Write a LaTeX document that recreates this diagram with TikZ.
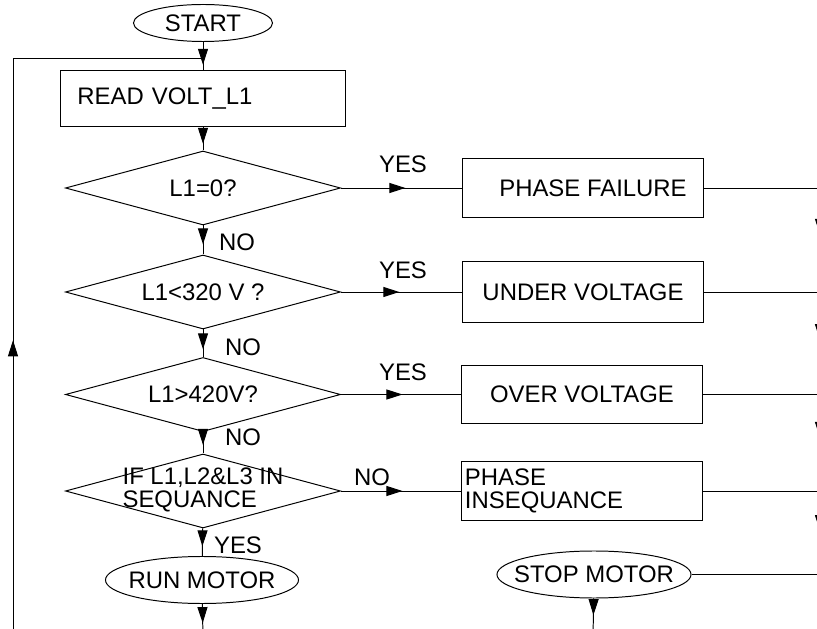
\documentclass[tikz,border=0pt]{standalone}
\usepackage{fontspec}
\setmainfont{Liberation Sans}
\usepackage{tikz}
\usetikzlibrary{shapes.geometric, arrows.meta, decorations.markings}
\newcommand{\slimtext}[1]{\makebox[0pt]{#1}}

\begin{document}
\begin{tikzpicture}[
        x=0.025cm, y=-0.025cm,
        every node/.style={font=\fontsize{17}{16.5}\selectfont},
        term/.style={ellipse, draw, line width=0.7pt, inner sep=0pt, minimum height=1.175cm},
        procbox/.style={rectangle, draw, line width=0.7pt, minimum width=6cm, minimum height=1.475cm, align=center},
        decision/.style={diamond, draw, line width=0.7pt, aspect=3.7, inner sep=0pt, minimum width=6.875cm, minimum height=1.85cm},
        plain/.style={line width=0.7pt},
        arrowline/.style={line width=0.7pt, decoration={markings, mark=at position #1 with {\arrow{Triangle[length=4mm, width=2.5mm]}}}, postaction={decorate}},
        lbl/.style={inner sep=0pt}
    ]
        \useasboundingbox (0,0) rectangle (817,629);
        \clip (0,0) rectangle (817,629);
        % left column
        \node[term, minimum width=3.475cm, minimum height=0.925cm] (start) at (203,23) {\slimtext{START}};
        \node[procbox, minimum width=7.125cm, minimum height=1.375cm, text width=6.275cm, inner xsep=0.425cm, align=left] (read) at (203,98.5) {READ VOLT\_L1};
        \node[decision] (chkzero) at (203,188) {L1=0?};
        \node[decision] (chkunder) at (203,292) {L1<320 V ?};
        \node[decision] (chkover) at (203,394.5) {L1>420V?};
        \node[decision] (chkseq) at (203,491) {\slimtext{\begin{tabular}{@{}l@{}}IF L1,L2\&L3 IN\\SEQUANCE\end{tabular}}};
        \node[term, minimum width=4.825cm] (run) at (202,580) {\slimtext{RUN MOTOR}};
        % right column
        \node[procbox] (fail) at (583,188) {\hspace*{0.5cm}PHASE FAILURE};
        \node[procbox, minimum height=1.5cm] (under) at (583,292) {UNDER VOLTAGE};
        \node[procbox, minimum height=1.45cm] (over) at (582,394.5) {OVER VOLTAGE};
        \node[procbox, text width=5.85cm, inner xsep=0.075cm, inner ysep=2pt, align=left] (inseq) at (582,491) {PHASE\\INSEQUANCE};
        \node[term, minimum width=4.85cm] (stop) at (594,574.5) {\slimtext{STOP MOTOR}};
        % free ends
        \coordinate (loopbot) at (13,640);
        \coordinate (looptop) at (13,58);
        \coordinate (loopjoin) at (203,58);
        \coordinate (runexit) at (203,640);
        \coordinate (stopexit) at (593,640);
        \coordinate (busA) at (820,188);
        \coordinate (busB) at (820,292);
        \coordinate (busC) at (820,394.5);
        \coordinate (busD) at (820,491);
        \coordinate (busE) at (820,574.5);
        % main flow
        \draw[arrowline=0.8] (start) -- (read);
        \draw[arrowline=0.515] (loopbot) -- (looptop);
        \draw[plain] (looptop) -- (loopjoin);
        \draw[arrowline=0.72] (read) -- (chkzero);
        \draw[arrowline=0.65] (chkzero) -- (chkunder);
        \draw[arrowline=0.72] (chkunder) -- (chkover);
        \draw[arrowline=0.6] (chkover) -- (chkseq);
        \draw[arrowline=0.65] (chkseq) -- (run);
        \draw[arrowline=0.53] (run) -- (runexit);
        \draw[arrowline=0.4] (stop) -- (stopexit);
        % branches
        \draw[arrowline=0.53] (chkzero.east) -- (fail.west);
        \draw[arrowline=0.48] (chkunder.east) -- (under.west);
        \draw[arrowline=0.51] (chkover.east) -- (over.west);
        \draw[arrowline=0.51] (chkseq.east) -- (inseq.west);
        \draw[plain] (fail) -- (busA);
        \draw[plain] (under) -- (busB);
        \draw[plain] (over) -- (busC);
        \draw[plain] (inseq) -- (busD);
        \draw[plain] (stop) -- (busE);
        \draw[arrowline=0.45] (busA) -- (busB);
        \draw[arrowline=0.47] (busB) -- (busC);
        \draw[arrowline=0.45] (busC) -- (busD);
        \draw[arrowline=0.48] (busD) -- (busE);
        % labels
        \node[lbl] (nozero) at (237,242) {NO};
        \node[lbl] (nounder) at (243,347) {NO};
        \node[lbl] (noover) at (243,437) {NO};
        \node[lbl] (yesseq) at (238,545) {YES};
        \node[lbl] (yeszero) at (403,164) {YES};
        \node[lbl] (yesunder) at (403,270) {YES};
        \node[lbl] (yesover) at (403,372) {YES};
        \node[lbl] (noseq) at (372,477) {NO};
    \end{tikzpicture}
\end{document}
